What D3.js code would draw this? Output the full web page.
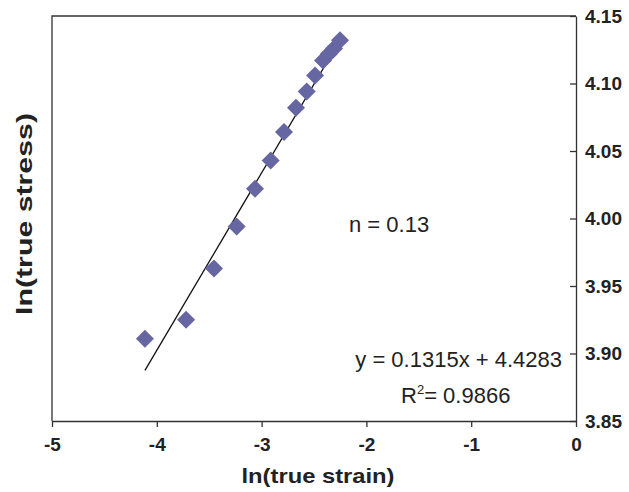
<!DOCTYPE html>
<html>
<head>
<meta charset="utf-8">
<script src="https://cdn.jsdelivr.net/npm/d3@7"></script>
<style>
  body { margin: 0; background: #fff; }
  svg { display: block; font-family: "Liberation Sans", Arial, sans-serif; }
</style>
</head>
<body>
<div id="chart"></div>
<script>
var width = 629;
var height = 492;
var margin = {top: 16, right: 53, bottom: 71, left: 52};

// ln(true strain) / ln(true stress)
var lnStrain = [-4.113, -3.721, -3.454, -3.238, -3.063, -2.913, -2.786, -2.672, -2.570, -2.490, -2.414, -2.357, -2.309, -2.252];
var lnStress = [3.911, 3.925, 3.963, 3.994, 4.022, 4.043, 4.064, 4.082, 4.094, 4.106, 4.117, 4.122, 4.126, 4.132];

var xTicks = [-5, -4, -3, -2, -1, 0];
var yTicks = [3.85, 3.90, 3.95, 4.00, 4.05, 4.10, 4.15];

// linear fit shown on the chart
var slope = 0.1315;
var intercept = 4.4283;
var rSquared = "0.9866";
var nLabel = "n = 0.13";

var data = lnStrain.map((x, i) => ({x: x, y: lnStress[i]}));

var svg = d3.select("#chart")
    .append("svg")
    .attr("width", width)
    .attr("height", height);

var iw = width - margin.left - margin.right;
var ih = height - margin.top - margin.bottom;

var x = d3.scaleLinear().domain([-5, 0]).range([margin.left, margin.left + iw]);
var y = d3.scaleLinear().domain([3.85, 4.15]).range([margin.top + ih, margin.top]);

var ink = "#222";

// frame: left and top lines
svg.append("path")
    .attr("d", `M${x(-5)},${y(3.85)}V${y(4.15)}H${x(0)}`)
    .attr("fill", "none")
    .attr("stroke", "#333")
    .attr("stroke-width", 1.3);

// bottom axis, ticks pointing down
var xAxis = svg.append("g")
    .attr("transform", `translate(0,${y(3.85)})`)
    .call(d3.axisBottom(x).tickValues(xTicks).tickSize(6).tickSizeOuter(0).tickFormat(d3.format("d")));
xAxis.select(".domain").attr("stroke", "#333").attr("stroke-width", 1.3);
xAxis.selectAll(".tick line").attr("stroke", "#333").attr("stroke-width", 1.3);
xAxis.selectAll(".tick text")
    .attr("y", 17)
    .attr("dy", "0.71em")
    .attr("fill", ink)
    .style("font-size", "19px")
    .style("font-weight", "bold")
    .text(d => d === 0 ? "0" : "-" + Math.abs(d));

// right axis, ticks pointing into the plot
var yAxis = svg.append("g")
    .attr("transform", `translate(${x(0)},0)`)
    .call(d3.axisRight(y).tickValues(yTicks).tickSize(0).tickSizeOuter(0).tickFormat(d3.format(".2f")));
yAxis.select(".domain").attr("stroke", "#333").attr("stroke-width", 1.3);
yAxis.selectAll(".tick line")
    .attr("x1", -6).attr("x2", 0)
    .attr("stroke", "#333").attr("stroke-width", 1.3);
yAxis.selectAll(".tick text")
    .attr("x", 9)
    .attr("fill", ink)
    .style("font-size", "19px")
    .style("font-weight", "bold");

// trend line over the range of the data
var x0 = d3.min(lnStrain), x1 = d3.max(lnStrain);
svg.append("line")
    .attr("x1", x(x0)).attr("y1", y(slope * x0 + intercept))
    .attr("x2", x(x1)).attr("y2", y(slope * x1 + intercept))
    .attr("stroke", "#111")
    .attr("stroke-width", 1.3);

// diamonds
var diamond = d3.symbol().type(d3.symbolSquare).size(162);
svg.append("g")
    .selectAll("path")
    .data(data)
    .enter()
    .append("path")
        .attr("d", diamond)
        .attr("transform", d => `translate(${x(d.x)},${y(d.y)}) rotate(45)`)
        .attr("fill", "#6666a3");

// annotations
svg.append("text")
    .attr("x", 349).attr("y", 232)
    .attr("fill", ink)
    .style("font-size", "22px")
    .text(nLabel);

svg.append("text")
    .attr("x", 562).attr("y", 367)
    .attr("text-anchor", "end")
    .attr("fill", ink)
    .style("font-size", "22px")
    .text(`y = ${slope}x + ${intercept}`);

var r2 = svg.append("text")
    .attr("x", 401).attr("y", 403)
    .attr("fill", ink)
    .style("font-size", "22px");
r2.append("tspan").text("R");
r2.append("tspan").attr("dy", -9).style("font-size", "13px").text("2");
r2.append("tspan").attr("dy", 9).text("= " + rSquared);

// axis titles
svg.append("text")
    .attr("x", 318).attr("y", 483)
    .attr("text-anchor", "middle")
    .attr("fill", ink)
    .style("font-size", "21px")
    .style("font-weight", "bold")
    .attr("textLength", 153)
    .attr("lengthAdjust", "spacingAndGlyphs")
    .text("ln(true strain)");

svg.append("text")
    .attr("transform", "translate(32,214) rotate(-90)")
    .attr("text-anchor", "middle")
    .attr("fill", ink)
    .style("font-size", "22px")
    .style("font-weight", "bold")
    .attr("textLength", 202)
    .attr("lengthAdjust", "spacingAndGlyphs")
    .text("ln(true stress)");
</script>
</body>
</html>
